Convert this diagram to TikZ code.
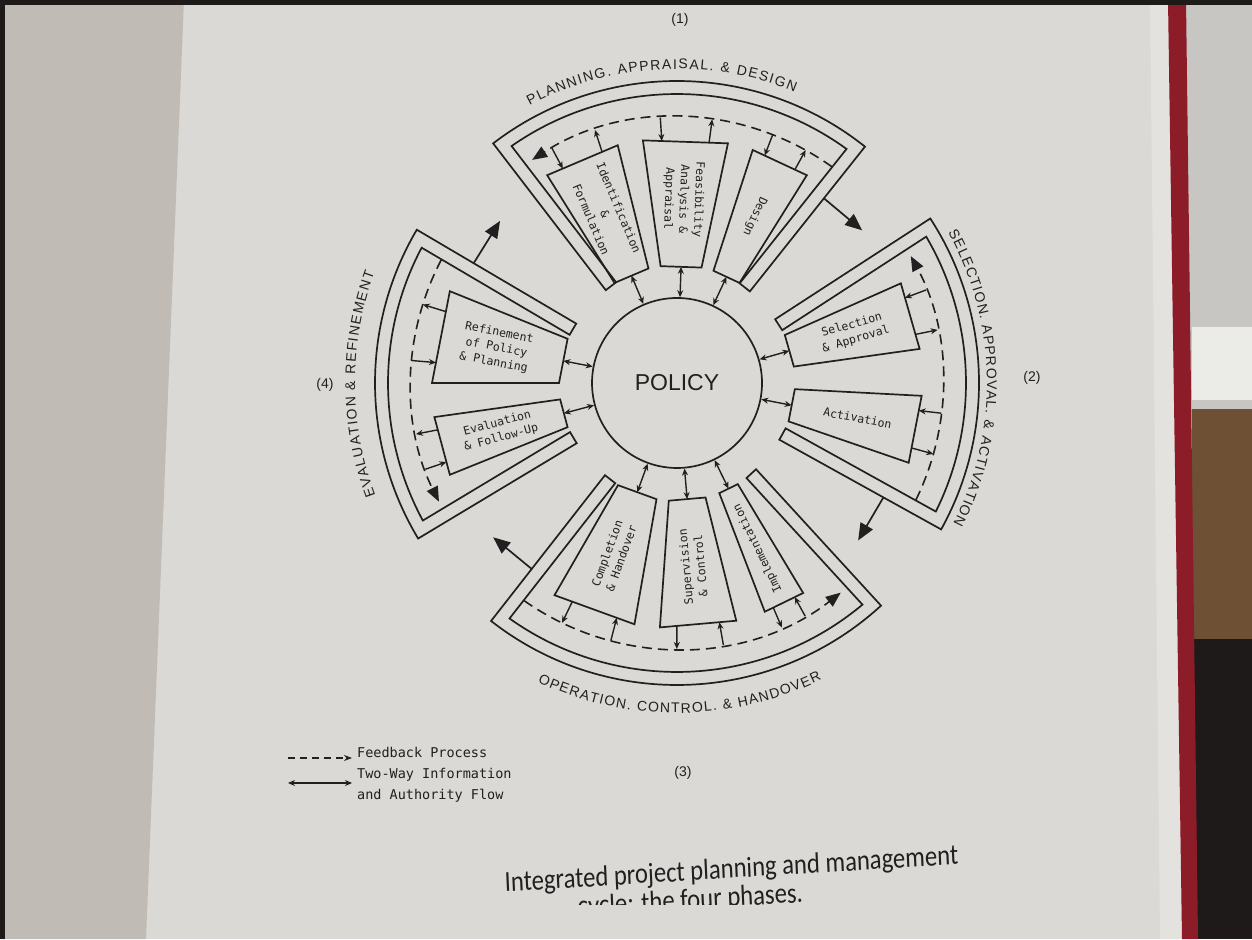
\documentclass[tikz,border=0pt]{standalone}
\usepackage{fontspec}
\setmainfont{Liberation Sans}
\newfontfamily\monof{DejaVu Sans Mono}
\newfontfamily\capfont{Carlito}
\usetikzlibrary{calc,arrows.meta,decorations.text}
\definecolor{ink}{RGB}{32,32,32}
\definecolor{paper}{RGB}{219,217,213}
\definecolor{lpage}{RGB}{192,188,181}
\definecolor{pedges}{RGB}{228,226,222}
\definecolor{bookred}{RGB}{140,28,40}
\definecolor{wood}{RGB}{110,80,52}
\definecolor{darkbg}{RGB}{30,26,26}
\definecolor{notebk}{RGB}{200,198,195}
\definecolor{card}{RGB}{235,235,232}
\newcommand\lblfont{\fontsize{14}{16}\selectfont}
\tikzset{
  frame/.style={draw=ink, line width=1.7pt, line join=miter},
  fbline/.style={draw=ink, line width=1.6pt, dash pattern=on 10pt off 6pt, -{Triangle[length=15pt,width=12pt]}},
  twoway/.style={draw=ink, line width=1.4pt, {Stealth[length=7pt,width=6pt]}-{Stealth[length=7pt,width=6pt]}},
  oneway/.style={draw=ink, line width=1.4pt, -{Stealth[length=7pt,width=6pt]}},
  bigarrow/.style={draw=ink, line width=1.7pt, -{Triangle[length=17pt,width=14pt]}},
  boxtext/.style={font=\monof\fontsize{11.5}{15}\selectfont, text=ink, align=center, inner sep=0pt},
  numtext/.style={font=\fontsize{14}{16}\selectfont, text=ink},
  legtext/.style={font=\monof\fontsize{13.5}{21}\selectfont, text=ink, align=left, inner sep=0pt},
  captext/.style={font=\capfont\fontsize{29}{30}\selectfont, text=ink, inner sep=0pt, xscale=0.85},
}
% band (U-shaped frame) of one phase, with its feedback arc and outgoing arrow
\newcommand\bandsec[3]{%
  \pgfmathsetmacro\bandlo{#2+2.58}%
  \pgfmathsetmacro\bandhi{#3-2.58}%
  \pgfmathsetmacro\fbs{#2+2.9}%
  \pgfmathsetmacro\fbe{#3-4.5}%
  \pgfmathsetmacro\bga{#2-12}%
  \draw[frame] (#2:117pt) -- (#2:302pt) arc[start angle=#2, end angle=#3, radius=302pt]
    -- (#3:117pt) -- ($(#3:117pt)+({#3-90}:13pt)$) -- ($(#3:288.7pt)+({#3-90}:13pt)$)
    arc[start angle=\bandhi, end angle=\bandlo, radius=289pt]
    -- ($(#2:117pt)+({#2+90}:13pt)$) -- cycle;
  \coordinate (#1-fs) at (\fbs:266pt);
  \draw[fbline] (#1-fs) arc[start angle=\fbs, end angle=\fbe, radius=266pt];
  \coordinate (#1-ba) at (#2:236pt);
  \coordinate (#1-bb) at (\bga:240pt);
  \draw[bigarrow] (#1-ba) -- (#1-bb);
}
% one activity box
\newcommand\pbox[5]{%
  \pgfmathtruncatemacro\bxm{(#2+#3)/2}%
  \pgfmathsetmacro\bxh{(#3-#2)/2}%
  \pgfmathsetmacro\bxa{#2+0.22*(#3-#2)}%
  \pgfmathsetmacro\bxb{#3-0.22*(#3-#2)}%
  \pgfmathsetlengthmacro\rin{118pt*cos(\bxh)}%
  \pgfmathsetlengthmacro\ra{245pt*cos(\bxh)/cos(\bxa-\bxm)}%
  \pgfmathsetlengthmacro\rb{245pt*cos(\bxh)/cos(\bxb-\bxm)}%
  \draw[frame] (#2:118pt) -- (#2:245pt) -- (#3:245pt) -- (#3:118pt) -- cycle;
  \node[boxtext, rotate=\bxm-#4] (#1) at (\bxm:184pt) {#5};
  \coordinate (#1-in) at (\bxm:\rin);
  \coordinate (#1-oa) at (\bxa:\ra);
  \coordinate (#1-fa) at (\bxa:266pt);
  \coordinate (#1-ob) at (\bxb:\rb);
  \coordinate (#1-fb) at (\bxb:266pt);
  \draw[twoway] (policy.\bxm) -- (#1-in);
  \draw[oneway] (#1-oa) -- (#1-fa);
  \draw[oneway] (#1-fb) -- (#1-ob);
}
\begin{document}
\begin{tikzpicture}[x=1pt,y=1pt]
\useasboundingbox (0,0) rectangle (1252,939);
% page and surroundings
\fill[paper] (0,0) rectangle (1252,939);
\fill[lpage] (0,0) -- (146,0) -- (184,939) -- (0,939) -- cycle;
\fill[notebk] (1180,0) rectangle (1252,939);
\fill[card] (1192,539) rectangle (1252,612);
\fill[wood] (1192,300) rectangle (1252,530);
\fill[darkbg] (1192,0) rectangle (1252,300);
\fill[pedges] (1150,939) -- (1168,939) -- (1182,0) -- (1160,0) -- cycle;
\fill[bookred] (1168,939) -- (1186,939) -- (1198,0) -- (1182,0) -- cycle;
\fill[darkbg] (0,0) rectangle (5,939);
\fill[darkbg] (0,934) rectangle (1252,939);

\begin{scope}[shift={(677,556)}]
\node[draw=ink, line width=1.7pt, circle, minimum size=170pt, inner sep=0pt,
      font=\fontsize{23}{25}\selectfont, text=ink] (policy) at (0,0) {POLICY};
\bandsec{top}{51.5}{127.5}
\bandsec{right}{-29}{33}
\bandsec{bottom}{232}{312.5}
\bandsec{left}{149.5}{211}
\pbox{ident}{104}{122}{180}{Identification\\\&\\Formulation}
\pbox{feas}{78}{98}{180}{Feasibility\\Analysis \&\\Appraisal}
\pbox{design}{58}{72}{180}{Design}
\pbox{select}{8}{24}{0}{Selection\\\& Approval}
\pbox{activ}{-19}{-3}{0}{Activation}
\pbox{compl}{240}{260}{180}{Completion\\\& Handover}
\pbox{superv}{266}{284}{180}{Supervision\\\& Control}
\pbox{implem}{291}{301}{180}{Implementation}
\pbox{refine}{158}{180}{180}{Refinement\\of Policy\\\& Planning}
\pbox{evalu}{188}{202}{180}{Evaluation\\\& Follow-Up}
% phase titles along arcs
\path[decorate, decoration={text along path, text align=fit to path, text color=ink,
   text={|\lblfont|PLANNING. APPRAISAL. {\&} DESIGN}}]
   (118:314pt) arc[start angle=118, end angle=68, radius=314pt];
\path[decorate, decoration={text along path, text align=fit to path, text color=ink,
   text={|\lblfont|SELECTION. APPROVAL. {\&} ACTIVATION}}]
   (29:310pt) arc[start angle=29, end angle=-27, radius=310pt];
\path[decorate, decoration={text along path, text align=fit to path, text color=ink,
   text={|\lblfont|OPERATION. CONTROL. {\&} HANDOVER}}]
   (245:330pt) arc[start angle=245, end angle=296, radius=330pt];
\path[decorate, decoration={text along path, text align=fit to path, text color=ink,
   text={|\lblfont|EVALUATION {\&} REFINEMENT}}]
   (200.5:322pt) arc[start angle=200.5, end angle=160, radius=322pt];
\end{scope}

% phase numbers
\node[numtext] (n1) at (680,919) {(1)};
\node[numtext] (n2) at (1032,561) {(2)};
\node[numtext] (n3) at (683,166) {(3)};
\node[numtext] (n4) at (325,554) {(4)};

% legend
\coordinate (lga) at (288,181);
\coordinate (lgb) at (352,181);
\draw[draw=ink, line width=1.3pt, dash pattern=on 7pt off 5pt, -{Stealth[length=8pt,width=6pt]}] (lga) -- (lgb);
\node[legtext, anchor=west] (lg1) at (357,187) {Feedback Process};
\coordinate (lgc) at (288,156);
\coordinate (lgd) at (352,156);
\draw[twoway] (lgc) -- (lgd);
\node[legtext, anchor=west] (lg2) at (357,153.5) {Two-Way Information\\and Authority Flow};

% caption
\node[captext, rotate=3, anchor=base west] (cap1) at (505,47) {Integrated project planning and management};
\begin{scope}
\clip (400,34) rectangle (1100,80);
\node[captext, rotate=3, anchor=base west] (cap2) at (578,23) {cycle: the four phases.};
\end{scope}
\end{tikzpicture}
\end{document}
